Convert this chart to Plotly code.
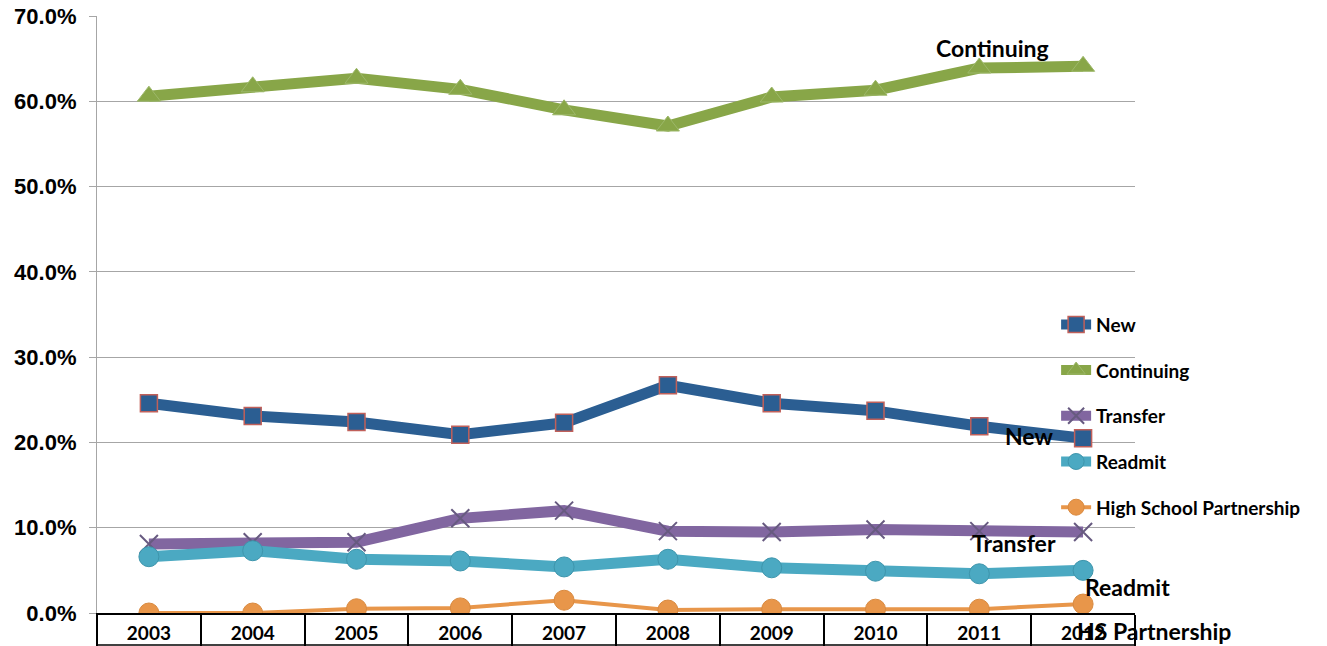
import plotly.graph_objects as go

years = ["2003", "2004", "2005", "2006", "2007", "2008", "2009", "2010", "2011", "2012"]
new = [0.246, 0.231, 0.224, 0.209, 0.223, 0.267, 0.246, 0.237, 0.219, 0.205]
continuing = [0.606, 0.617, 0.627, 0.614, 0.590, 0.571, 0.605, 0.613, 0.639, 0.641]
transfer = [0.081, 0.083, 0.083, 0.111, 0.120, 0.096, 0.095, 0.098, 0.096, 0.095]
readmit = [0.066, 0.073, 0.063, 0.061, 0.054, 0.063, 0.053, 0.049, 0.046, 0.050]
hsp = [0.000, 0.000, 0.005, 0.006, 0.015, 0.0035, 0.0045, 0.0045, 0.0045, 0.0105]

fig = go.Figure()

series = [
    ("New", new, "#2B5E92", 11, dict(symbol="square", size=17, color="#2B5E92",
                                       line=dict(color="#C0605A", width=1.5))),
    ("Continuing", continuing, "#88A648", 11, dict(symbol="triangle-up", size=20, color="#88A648",
                                                    line=dict(color="#9DB86A", width=1))),
    ("Transfer", transfer, "#8166A0", 11, dict(symbol="x-thin-open", size=18, color="#675A80",
                                                line=dict(color="#675A80", width=2))),
    ("Readmit", readmit, "#4BA9C2", 11, dict(symbol="circle", size=20, color="#4BA9C2",
                                              line=dict(color="#3E95AC", width=1))),
    ("High School Partnership", hsp, "#E8964A", 4, dict(symbol="circle", size=20, color="#E8964A",
                                                         line=dict(color="#D98A40", width=1))),
]

for name, vals, col, lw, mk in series:
    fig.add_trace(go.Scatter(
        x=years, y=vals, name=name, mode="lines+markers",
        line=dict(color=col, width=lw), marker=mk,
        legendgroup=name,
    ))

# data labels near series ends (category axis: position by category index)
labels = [
    ("Continuing", 8, continuing, 13, 20),
    ("New", 9, new, -54, 2),
    ("Transfer", 9, transfer, -69, -11),
    ("Readmit", 9, readmit, 44, -17),
    ("HS Partnership", 9, hsp, 71, -27),
]
annots = []
for txt, idx, vals, xs, ys in labels:
    annots.append(dict(x=idx, y=vals[idx], xref="x", yref="y", text="<b>" + txt + "</b>",
                       showarrow=False, xshift=xs, yshift=ys,
                       font=dict(family="Lato", size=23, color="black"),
                       xanchor="center", yanchor="middle"))

fig.update_layout(
    width=1327, height=646,
    margin=dict(l=97, r=192, t=16, b=33),
    paper_bgcolor="white", plot_bgcolor="white",
    showlegend=True,
    annotations=annots,
    shapes=[dict(type="line", xref="paper", yref="paper", x0=0, x1=1,
                 y0=-32/597, y1=-32/597, line=dict(color="black", width=1.5))],
    legend=dict(x=0.924, y=0.515, xanchor="left", yanchor="top",
                bgcolor="rgba(0,0,0,0)", tracegroupgap=18,
                font=dict(family="Lato", size=19, color="black", weight="bold")),
    xaxis=dict(type="category", range=[-0.5, 9.5], showgrid=False, zeroline=False,
               automargin=False,
               showline=True, linecolor="black", linewidth=1.5,
               ticks="outside", tickson="boundaries", ticklen=33, tickcolor="black", tickwidth=1.5,
               ticklabelstandoff=2,
               tickfont=dict(family="Lato", size=19, color="black", weight="bold")),
    yaxis=dict(range=[0, 0.7], dtick=0.1, tickformat=".1%", showgrid=True,
               automargin=False,
               gridcolor="#A6A6A6", gridwidth=1.2, zeroline=False,
               showline=True, linecolor="#A6A6A6", linewidth=1.2,
               ticks="outside", ticklen=7, tickcolor="#A6A6A6", ticklabelstandoff=8,
               tickfont=dict(family="Liberation Sans", size=22, color="black", weight="bold")),
)

fig.write_html("out.html", config={"displayModeBar": False},
               post_script="document.body.style.margin='0';document.body.style.padding='0';")
